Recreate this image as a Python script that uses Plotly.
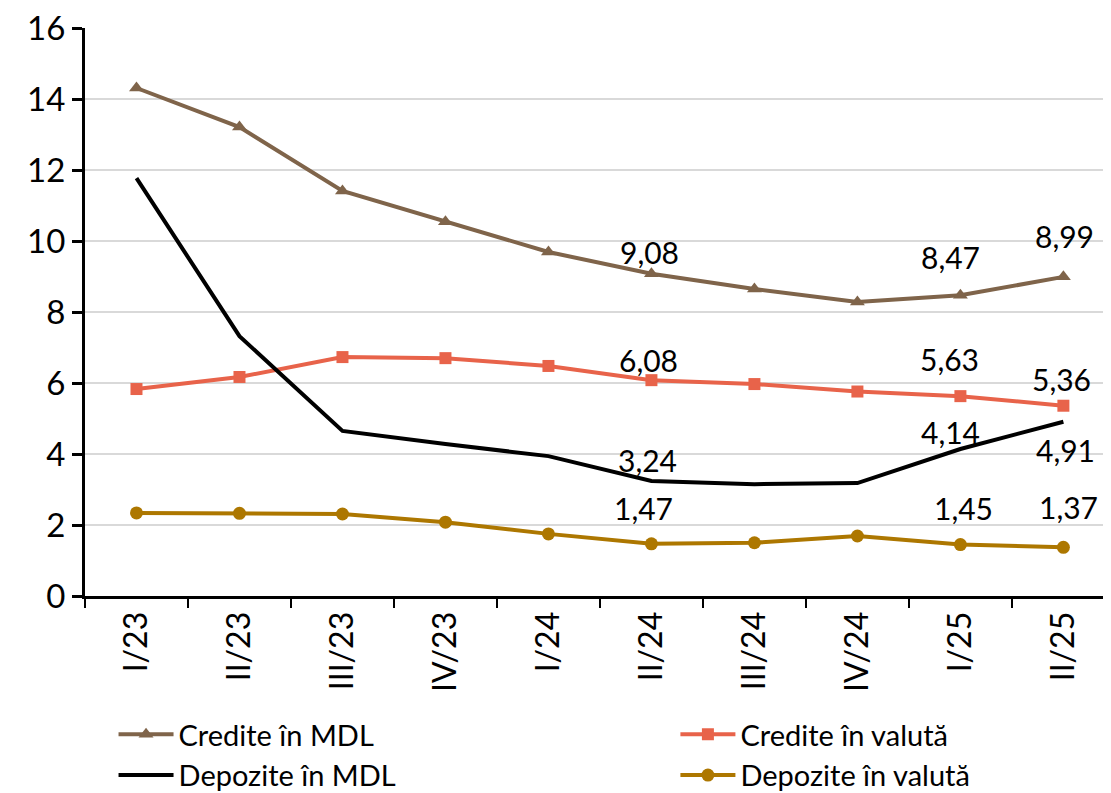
import plotly.graph_objects as go

# trimestre
categorii = ['I/23', 'II/23', 'III/23', 'IV/23', 'I/24', 'II/24', 'III/24', 'IV/24', 'I/25', 'II/25']

# rate medii, %
credite_mdl = [14.31, 13.21, 11.41, 10.54, 9.69, 9.08, 8.65, 8.28, 8.47, 8.99]
credite_valuta = [5.83, 6.17, 6.73, 6.70, 6.48, 6.08, 5.97, 5.76, 5.63, 5.36]
depozite_mdl = [11.77, 7.32, 4.65, 4.28, 3.94, 3.24, 3.15, 3.18, 4.14, 4.91]
depozite_valuta = [2.34, 2.33, 2.31, 2.08, 1.75, 1.47, 1.50, 1.69, 1.45, 1.37]

# puncte cu eticheta (indici in categorii)
etichete_idx = [5, 8, 9]

FONT = 'Lato'
fig = go.Figure()

# coloana stanga a legendei -> legend, coloana dreapta -> legend2
fig.add_trace(go.Scatter(x=categorii, y=credite_mdl, name='Credite în MDL', mode='lines+markers',
                         line=dict(color='#7f644a', width=4), legend='legend',
                         marker=dict(symbol='triangle-up', size=13, color='#7f644a')))
fig.add_trace(go.Scatter(x=categorii, y=credite_valuta, name='Credite în valută', mode='lines+markers',
                         line=dict(color='#e8634a', width=4), legend='legend2',
                         marker=dict(symbol='square', size=12, color='#e8634a')))
fig.add_trace(go.Scatter(x=categorii, y=depozite_mdl, name='Depozite în MDL', mode='lines',
                         line=dict(color='#000000', width=4), legend='legend'))
fig.add_trace(go.Scatter(x=categorii, y=depozite_valuta, name='Depozite în valută', mode='lines+markers',
                         line=dict(color='#ad7700', width=4), legend='legend2',
                         marker=dict(symbol='circle', size=13, color='#ad7700')))

# deplasari etichete (px), ca in Excel
deplasari = {
    0: [(-2, 22), (-10, 38), (1, 41)],
    1: [(-3, 20), (-11, 37), (-2, 27)],
    2: [(-4, 21), (-10, 17), (2, -28)],
    3: [(-8, 36), (3, 37), (5, 40)],
}
serii = [credite_mdl, credite_valuta, depozite_mdl, depozite_valuta]
for s, valori in enumerate(serii):
    for k, i in enumerate(etichete_idx):
        dx, dy = deplasari[s][k]
        fig.add_annotation(x=categorii[i], y=valori[i], text=f'{valori[i]:.2f}'.replace('.', ','),
                           showarrow=False, xshift=dx, yshift=dy,
                           font=dict(family=FONT, size=30, color='#000000'))

leg = dict(orientation='v', yanchor='bottom', y=-0.361, xanchor='left',
           tracegroupgap=0, font=dict(family=FONT, size=29), itemwidth=55,
           bgcolor='rgba(0,0,0,0)')
fig.update_layout(
    width=1111, height=793,
    margin=dict(l=77, r=0, t=20, b=205),
    paper_bgcolor='white', plot_bgcolor='white',
    font=dict(family=FONT, size=28, color='#000000'),
    legend=dict(leg, x=0.0276),
    legend2=dict(leg, x=0.571),
)
fig.update_xaxes(range=[-0.5, 9.54], tickangle=-90, tickson='boundaries',
                 ticks='outside', ticklen=9, tickwidth=2, tickcolor='#000000',
                 showline=True, linecolor='#000000', linewidth=3, showgrid=False,
                 automargin=False, ticklabeloverflow='allow',
                 tickfont=dict(family=FONT, size=32))
fig.update_yaxes(range=[0, 16], dtick=2, ticks='outside', ticklen=10, tickwidth=3,
                 tickcolor='#000000', showline=True, linecolor='#000000', linewidth=3,
                 gridcolor='#d9d9d9', gridwidth=1.5, zeroline=False,
                 automargin=False, ticklabeloverflow='allow',
                 tickfont=dict(family=FONT, size=33))

fig.write_html('out.html')
